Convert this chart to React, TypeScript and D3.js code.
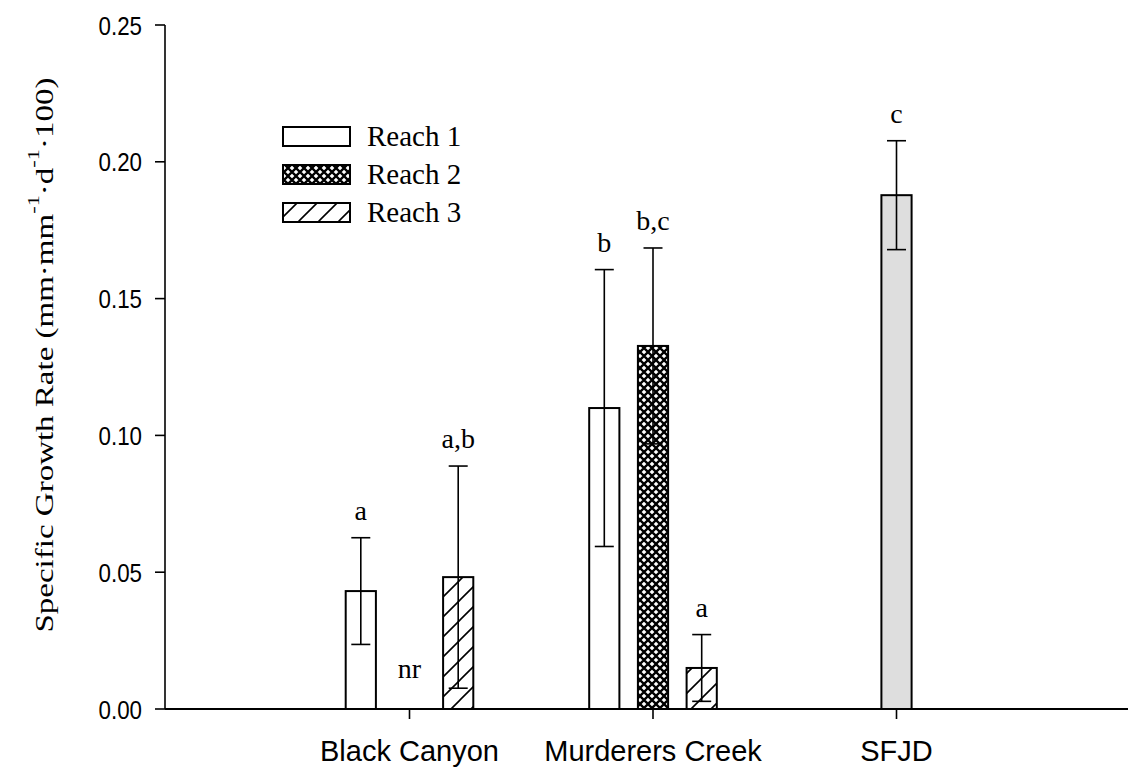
import React, { useLayoutEffect, useRef, useState } from "react";
import * as d3 from "d3";

const categories = ["Black Canyon", "Murderers Creek", "SFJD"];
const seriesNames = ["Reach 1", "Reach 2", "Reach 3"];
const reach1 = [0.0431, 0.11, null];
const reach1Err = [0.0195, 0.0506, null];
const reach1Labels = ["a", "b", null];
const reach2 = [null, 0.1327, null];
const reach2Err = [null, 0.0358, null];
const reach2Labels = ["nr", "b,c", null];
const reach3 = [0.0482, 0.015, null];
const reach3Err = [0.0406, 0.0122, null];
const reach3Labels = ["a,b", "a", null];
const sfjd = [null, null, 0.1878];
const sfjdErr = [null, null, 0.0199];
const sfjdLabels = [null, null, "c"];
const yTicks = [0, 0.05, 0.1, 0.15, 0.2, 0.25];

const W = 1128;
const H = 770;

export default function App() {
  const x = d3.scaleLinear().domain([0, 4]).range([166, 1140]);
  const y = d3.scaleLinear().domain([0, 0.25]).range([709, 25]);
  const offset = d3.scaleBand().domain(seriesNames).range([-0.3, 0.3]);
  const barUnits = offset.bandwidth() * 0.62;
  const barW = x(barUnits) - x(0);
  const capHalf = 9.5;

  const groups = [
    { name: "Reach 1", vals: reach1, errs: reach1Err, labels: reach1Labels, fill: "#ffffff", off: (offset("Reach 1") as number) + offset.bandwidth() / 2 },
    { name: "Reach 2", vals: reach2, errs: reach2Err, labels: reach2Labels, fill: "url(#cross)", off: (offset("Reach 2") as number) + offset.bandwidth() / 2 },
    { name: "Reach 3", vals: reach3, errs: reach3Err, labels: reach3Labels, fill: "url(#diag)", off: (offset("Reach 3") as number) + offset.bandwidth() / 2 },
    { name: "SFJD", vals: sfjd, errs: sfjdErr, labels: sfjdLabels, fill: "#dedede", off: 0 },
  ];

  const titleRef = useRef<SVGTextElement>(null);
  const [titleScale, setTitleScale] = useState(1.4);
  useLayoutEffect(() => {
    if (titleRef.current) {
      const len = titleRef.current.getComputedTextLength();
      if (len > 0) setTitleScale(555 / len);
    }
  }, []);

  const serif = "'Liberation Serif', 'Times New Roman', serif";
  const sans = "'Liberation Sans', Arial, sans-serif";

  return (
    <svg width={W} height={H} style={{ position: "absolute", left: 0, top: 0, background: "#fff" }}>
      <defs>
        <pattern id="cross" patternUnits="userSpaceOnUse" width={8} height={8}>
          <rect width={8} height={8} fill="#fff" />
          <path d="M0,0 L8,8 M8,0 L0,8" stroke="#000" strokeWidth={2.3} />
        </pattern>
        <pattern id="diag" patternUnits="userSpaceOnUse" width={20} height={20}>
          <rect width={20} height={20} fill="#fff" />
          <path d="M0,20 L20,0 M-5,5 L5,-5 M15,25 L25,15" stroke="#000" strokeWidth={1.6} />
        </pattern>
      </defs>
      <rect width={W} height={H} fill="#fff" />

      {groups.map((g) =>
        g.vals.map((v, ci) => {
          if (v == null) return null;
          const cx = x(ci + 1 + g.off);
          return (
            <rect key={g.name + ci} x={cx - barW / 2} y={y(v)} width={barW} height={y(0) - y(v)}
              fill={g.fill} stroke="#000" strokeWidth={2} />
          );
        })
      )}

      {groups.map((g) =>
        g.vals.map((v, ci) => {
          const e = g.errs[ci];
          if (v == null || e == null) return null;
          const cx = x(ci + 1 + g.off);
          const hi = y(v + e);
          const lo = y(v - e);
          return (
            <g key={"e" + g.name + ci} stroke="#000" strokeWidth={1.6}>
              <line x1={cx} x2={cx} y1={hi} y2={lo} />
              <line x1={cx - capHalf} x2={cx + capHalf} y1={hi} y2={hi} />
              <line x1={cx - capHalf} x2={cx + capHalf} y1={lo} y2={lo} />
            </g>
          );
        })
      )}

      {groups.map((g) =>
        g.labels.map((lab, ci) => {
          if (lab == null) return null;
          const v = g.vals[ci];
          const e = g.errs[ci];
          const cx = x(ci + 1 + g.off);
          const ty = v == null ? y(0) - 31 : y(v + (e ?? 0)) - 18;
          return (
            <text key={"l" + g.name + ci} x={cx} y={ty} textAnchor="middle" fontFamily={serif} fontSize={28} fill="#000">
              {lab}
            </text>
          );
        })
      )}

      <line x1={165} x2={165} y1={y(0)} y2={y(0.25)} stroke="#000" strokeWidth={1.6} />
      <line x1={165} x2={x(4)} y1={y(0)} y2={y(0)} stroke="#000" strokeWidth={2} />
      {yTicks.map((t) => (
        <g key={"yt" + t}>
          <line x1={155} x2={165} y1={y(t)} y2={y(t)} stroke="#000" strokeWidth={1.6} />
          <g transform={`translate(142, ${y(t) + 9.5}) scale(0.86, 1)`}>
            <text x={0} y={0} textAnchor="end" fontFamily={sans} fontSize={26} fill="#000">
              {d3.format(".2f")(t)}
            </text>
          </g>
        </g>
      ))}
      {categories.map((c, ci) => (
        <g key={"xt" + c}>
          <line x1={x(ci + 1)} x2={x(ci + 1)} y1={y(0)} y2={y(0) + 10} stroke="#000" strokeWidth={1.6} />
          <text x={x(ci + 1)} y={761} textAnchor="middle" fontFamily={sans} fontSize={29} fill="#000">
            {c}
          </text>
        </g>
      ))}

      <g transform={`translate(53, 355) rotate(-90) scale(${titleScale}, 1)`}>
        <text ref={titleRef} x={0} y={0} textAnchor="middle" fontFamily={serif} fontSize={25} fill="#000">
          Specific Growth Rate (mm·mm
          <tspan fontSize={17} dy={-14}>-1</tspan>
          <tspan dy={14}>·d</tspan>
          <tspan fontSize={17} dy={-14}>-1</tspan>
          <tspan dy={14}>·100)</tspan>
        </text>
      </g>

      {seriesNames.map((s, i) => {
        const fill = groups[i].fill;
        const by = 127 + i * 38;
        return (
          <g key={"lg" + s}>
            <rect x={283} y={by} width={67} height={19} fill={fill} stroke="#000" strokeWidth={2} />
            <text x={367} y={by + 19} fontFamily={serif} fontSize={29} fill="#000">
              {s}
            </text>
          </g>
        );
      })}
    </svg>
  );
}
